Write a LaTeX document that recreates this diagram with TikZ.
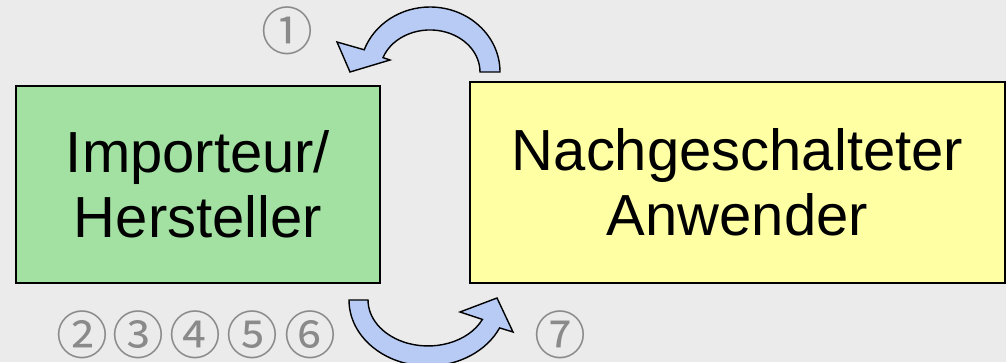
\documentclass[tikz,border=0pt]{standalone}
\usepackage{fontspec}
\setmainfont{Liberation Sans}
\newfontfamily\symfont{Noto Sans CJK JP}
\usetikzlibrary{positioning}

\definecolor{bggray}{HTML}{EBEBEB}
\definecolor{boxgreen}{HTML}{A2E1A2}
\definecolor{boxyellow}{HTML}{FFFFA3}
\definecolor{arrowblue}{HTML}{B7CBF5}
\definecolor{numgray}{HTML}{8A8A8A}

\begin{document}
\begin{tikzpicture}[
  x=0.02cm, y=0.02cm,
  box/.style={draw=black, line width=1.1pt, inner sep=0pt, align=center,
    font=\fontsize{33}{37}\selectfont},
  num/.style={text=numgray, inner sep=0pt,
    font=\symfont\fontsize{29.5}{30}\selectfont},
  turnarrow/.style={draw=black, fill=arrowblue, line width=0.8pt, line join=miter},
]

% background and frame
\fill[bggray] (0,0) rectangle (1006,362);
\useasboundingbox (0,0) rectangle (1006,362);
\clip (0,0) rectangle (1006,362);

% the two parties
\node[box, fill=boxgreen, minimum width=7.28cm, minimum height=3.94cm]
  (importeur) at (198,177.5) {Importeur/\\Hersteller};
\node[box, fill=boxyellow, minimum width=10.7cm, minimum height=4.02cm]
  (anwender) at (737.5,179.5) {Nachgeschalteter\\Anwender};

% turning arrows
\draw[turnarrow] (480,290) -- (500,290)
  arc[start angle=0, end angle=160, x radius=70, y radius=65]
  -- (337,320) -- (350,290) -- (390,302) -- (383,304.4)
  arc[start angle=160, end angle=0, x radius=50, y radius=42] -- cycle;
\draw[turnarrow] (349,62)
  arc[start angle=180, end angle=335, x radius=79, y radius=66]
  -- (513,30) -- (497,64) -- (460,50) -- (482.4,42.6)
  arc[start angle=335, end angle=180, x radius=60, y radius=46] -- cycle;

% numbers
\node[num] (num1) at (287,331) {①};
\node[num] (num2) at (82,27) {②};
\node[num] (num3) at (138,27) {③};
\node[num] (num4) at (195,27) {④};
\node[num] (num5) at (252,27) {⑤};
\node[num] (num6) at (310,27) {⑥};
\node[num] (num7) at (560,27) {⑦};
\end{tikzpicture}
\end{document}
